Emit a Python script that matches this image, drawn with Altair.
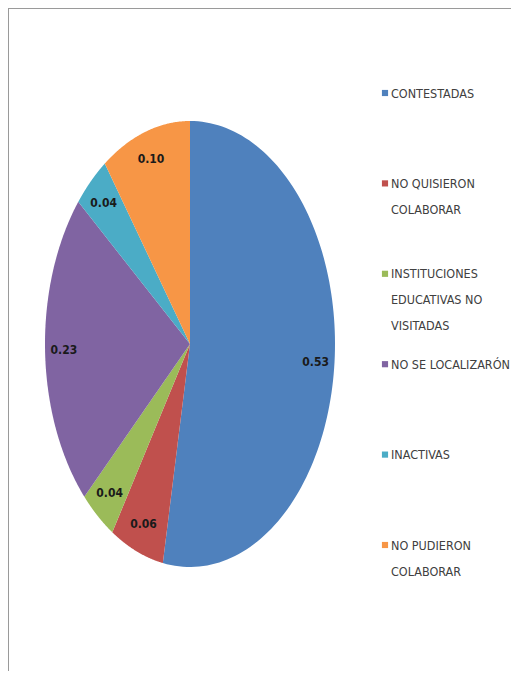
import altair as alt
import pandas as pd

# ---- data ----
categories = ["CONTESTADAS", "NO QUISIERON COLABORAR", "INSTITUCIONES EDUCATIVAS NO VISITADAS",
              "NO SE LOCALIZARÓN", "INACTIVAS", "NO PUDIERON COLABORAR"]
legend_labels = ["CONTESTADAS", "NO QUISIERON\nCOLABORAR", "INSTITUCIONES\nEDUCATIVAS NO\nVISITADAS",
                 "NO SE LOCALIZARÓN", "INACTIVAS", "NO PUDIERON\nCOLABORAR"]
values = [0.53, 0.06, 0.04, 0.23, 0.04, 0.10]
colors = ["#4F81BD", "#C0504D", "#9BBB59", "#8064A2", "#4BACC6", "#F79646"]

df = pd.DataFrame({
    "idx": list(range(len(categories))),
    "cat": categories,
    "label": legend_labels,
    "value": values,
})

W, H = 503, 663
FONT = "DejaVu Sans Condensed, Liberation Sans Narrow, Liberation Sans, sans-serif"

color = alt.Color("cat:N", scale=alt.Scale(domain=categories, range=colors), legend=None)
xs = alt.Scale(domain=[-1, 1], range=[37, 327], nice=False, zero=False)
ys = alt.Scale(domain=[-1, 1], range=[559, 113], nice=False, zero=False)

base = alt.Chart(df).transform_window(
    cum="sum(value)", sort=[alt.SortField("idx")], frame=[None, 0]
).transform_calculate(
    start="(datum.cum - datum.value) * 2 * PI",
    end="datum.cum * 2 * PI",
)

# elliptical pie slices: polygons built from the angles, stretched by the x/y scales
pie = base.transform_calculate(
    step="sequence(0, 121)"
).transform_flatten(["step"]).transform_calculate(
    ang="datum.start + (datum.end - datum.start) * (datum.step - 1) / 119",
    px="datum.step == 0 ? 0 : sin(datum.ang)",
    py="datum.step == 0 ? 0 : cos(datum.ang)",
).mark_line(filled=True, strokeWidth=0).encode(
    x=alt.X("px:Q", scale=xs, axis=None),
    y=alt.Y("py:Q", scale=ys, axis=None),
    color=color,
    order=alt.Order("step:Q"),
)

labels = base.transform_calculate(
    lx="0.87 * sin((datum.start + datum.end) / 2)",
    ly="0.87 * cos((datum.start + datum.end) / 2)",
).mark_text(font=FONT, fontSize=12, fontWeight="bold", color="#1a1a1a").encode(
    x=alt.X("lx:Q", scale=xs, axis=None),
    y=alt.Y("ly:Q", scale=ys, axis=None),
    text=alt.Text("value:Q", format=".2f"),
)

ly_scale = alt.Scale(type="point", domain=categories, range=[85, 537], padding=0)

leg_sq = alt.Chart(df).mark_square(size=38, opacity=1).encode(
    x=alt.value(377),
    y=alt.Y("cat:N", scale=ly_scale, axis=None),
    color=color,
)

leg_txt = alt.Chart(df).mark_text(
    font=FONT, fontSize=12.5, color="#404040", align="left", baseline="alphabetic",
    dy=4.5, lineBreak="\n", lineHeight=26,
).encode(
    x=alt.value(383),
    y=alt.Y("cat:N", scale=ly_scale, axis=None),
    text="label:N",
)

one = pd.DataFrame({"a": [0]})
border_left = alt.Chart(one).mark_rule(color="#9a9a9a", strokeWidth=2).encode(
    x=alt.value(0), y=alt.value(0), y2=alt.value(H)
)
border_top = alt.Chart(one).mark_rule(color="#9a9a9a", strokeWidth=2).encode(
    x=alt.value(0), x2=alt.value(W), y=alt.value(0)
)

chart = alt.layer(
    pie, labels, leg_sq, leg_txt, border_left, border_top
).resolve_scale(
    y="independent", x="independent"
).properties(
    width=W, height=H, autosize="none", padding=0, background="white"
).configure_view(stroke=None)

chart.save("out.html", embed_options={"renderer": "svg", "actions": False})
